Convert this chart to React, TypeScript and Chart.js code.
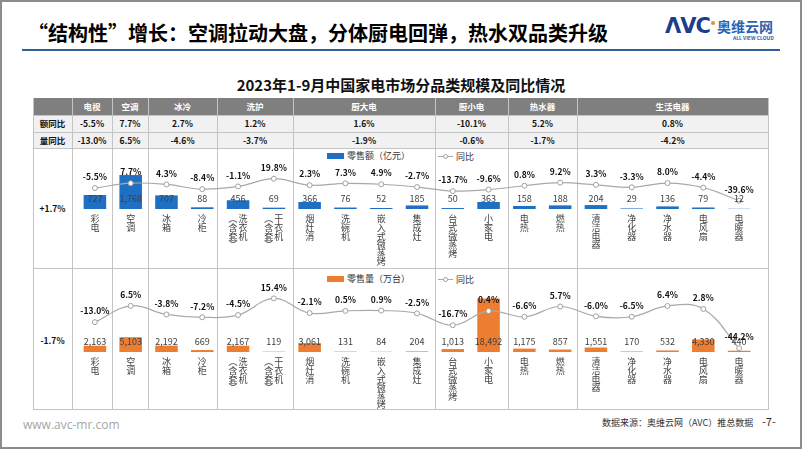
import React, { useEffect, useRef } from 'react';
import { Chart, registerables } from 'chart.js';
Chart.register(...registerables);

const FONT = '"Noto Sans CJK SC", "Noto Sans", sans-serif';

const categories = ['彩电', '空调', '冰箱', '冷柜', '洗衣机（含套）', '干衣机（含套）', '烟灶消', '洗碗机', '嵌入式微蒸烤', '集成灶', '台式微蒸烤', '小家电', '电热', '燃热', '清洁电器', '净化器', '净水器', '电风扇', '电暖器'];
const salesValue = [727, 1768, 707, 88, 456, 69, 366, 76, 52, 185, 50, 363, 158, 188, 204, 29, 136, 79, 12];
const salesValueYoY = [-5.5, 7.7, 4.3, -8.4, -1.1, 19.8, 2.3, 7.3, 4.9, -2.7, -13.7, -9.6, 0.8, 9.2, 3.3, -3.3, 8.0, -4.4, -39.6];
const salesVolume = [2163, 5103, 2192, 669, 2167, 119, 3061, 131, 84, 204, 1013, 18492, 1175, 857, 1551, 170, 532, 4330, 440];
const salesVolumeYoY = [-13.0, 6.5, -3.8, -7.2, -4.5, 15.4, -2.1, 0.5, 0.9, -2.5, -16.7, 0.4, -6.6, 5.7, -6.0, -6.5, 6.4, 2.8, -44.2];
const groups = ['电视', '空调', '冰冷', '洗护', '厨大电', '厨小电', '热水器', '生活电器'];
const groupValueYoY = ['-5.5%', '7.7%', '2.7%', '1.2%', '1.6%', '-10.1%', '5.2%', '0.8%'];
const groupVolumeYoY = ['-13.0%', '6.5%', '-4.6%', '-3.7%', '-1.9%', '-0.6%', '-1.7%', '-4.2%'];
const totalValueYoY = '+1.7%';
const totalVolumeYoY = '-1.7%';

function splitLabel(c: string): string[] {
  const m = c.match(/^(.*)（(.*)）$/);
  if (m) return [m[1], '︵' + m[2] + '︶'];
  return [c];
}

function fmt(n: number) {
  return n.toLocaleString('en-US');
}

type TCProps = {
  values: number[]; yoy: number[]; color: string; yMax: number; y1Min: number; y1Max: number;
  height: number; padBottom: number; left: number; top: number;
};

function TwinChart(p: TCProps) {
  const ref = useRef<HTMLCanvasElement>(null);
  useEffect(() => {
    const canvas = ref.current!;
    const plugin = {
      id: 'customLabels',
      afterDatasetsDraw(chart: any) {
        const ctx = chart.ctx;
        const lineMeta = chart.getDatasetMeta(0);
        const barMeta = chart.getDatasetMeta(1);
        const base = chart.scales.y.getPixelForValue(0);
        ctx.save();
        ctx.textAlign = 'center';
        ctx.textBaseline = 'middle';
        ctx.font = `9px ${FONT}`;
        ctx.fillStyle = '#404040';
        barMeta.data.forEach((bar: any, i: number) => ctx.fillText(fmt(p.values[i]), bar.x, base - 10));
        ctx.font = `bold 8.5px ${FONT}`;
        ctx.fillStyle = '#111';
        lineMeta.data.forEach((pt: any, i: number) => ctx.fillText(p.yoy[i].toFixed(1) + '%', pt.x, pt.y - 11));
        ctx.font = `9px ${FONT}`;
        ctx.fillStyle = '#404040';
        categories.forEach((c, i) => {
          const x = chart.scales.x.getPixelForValue(i);
          const cols = splitLabel(c);
          const offs = cols.length === 1 ? [0] : [5, -5];
          cols.forEach((col, k) => {
            Array.from(col).forEach((ch, j) => ctx.fillText(ch, x + offs[k], base + 10 + j * 8.6));
          });
        });
        ctx.restore();
      },
    };
    const chart = new Chart(canvas, {
      type: 'bar',
      data: {
        labels: categories,
        datasets: [
          {
            type: 'line',
            data: p.yoy,
            yAxisID: 'y1',
            borderColor: '#a9a9a9',
            borderWidth: 1.2,
            tension: 0.4,
            pointRadius: 2.5,
            pointBackgroundColor: '#ffffff',
            pointBorderColor: '#a0a0a0',
            pointBorderWidth: 1,
            order: 0,
            clip: false,
          } as any,
          {
            type: 'bar',
            data: p.values,
            yAxisID: 'y',
            backgroundColor: p.color,
            barPercentage: 0.63,
            categoryPercentage: 1,
            order: 1,
          } as any,
        ],
      },
      options: {
        animation: false,
        responsive: false,
        devicePixelRatio: 1,
        layout: { padding: { left: 3, right: 11, top: 0, bottom: p.padBottom } },
        plugins: { legend: { display: false }, tooltip: { enabled: false } },
        scales: {
          x: { display: false, offset: true },
          y: { display: false, min: 0, max: p.yMax },
          y1: { display: false, min: p.y1Min, max: p.y1Max },
        },
      },
      plugins: [plugin],
    });
    return () => chart.destroy();
  }, []);
  return (
    <canvas
      ref={ref}
      width={696}
      height={p.height}
      style={{ position: 'absolute', left: p.left, top: p.top, width: 696, height: p.height }}
    />
  );
}

const bounds = [72, 112, 148, 217, 293, 435, 508, 577, 768];
const hLines = [115, 132, 148, 268, 409];

export default function App() {
  const abs = (s: any) => ({ position: 'absolute', ...s });
  return (
    <div style={{ position: 'absolute', left: 0, top: 0, width: 802, height: 451, background: '#fff', fontFamily: FONT, overflow: 'hidden' }}>
      <div style={abs({ left: 0, top: 0, width: 802, height: 449, border: '2px solid #8c8c8c', boxSizing: 'border-box' })} />
      {/* title */}
      <div style={abs({ left: 28, top: 19, fontSize: 20, fontWeight: 700, color: '#000', whiteSpace: 'nowrap', lineHeight: '28px' })}>
        “结构性”增长：空调拉动大盘，分体厨电回弹，热水双品类升级
      </div>
      {/* logo */}
      <div style={abs({ left: 665, top: 13, fontSize: 21, fontWeight: 900, color: '#1c3d8c', fontFamily: '"DejaVu Sans", sans-serif', letterSpacing: -1, lineHeight: '26px', whiteSpace: 'nowrap' })}>ΛVC</div>
      <div style={abs({ left: 711, top: 21, width: 4, height: 4, borderRadius: 2, background: '#f08a24' })} />
      <div style={abs({ left: 717, top: 17, fontSize: 14, fontWeight: 700, color: '#2a62b4', lineHeight: '18px', whiteSpace: 'nowrap', letterSpacing: 0 })}>奥维云网</div>
      <div style={abs({ left: 733, top: 35, fontSize: 5, fontWeight: 700, color: '#2a62b4', lineHeight: '6px', whiteSpace: 'nowrap' })}>ALL VIEW CLOUD</div>
      <div style={abs({ left: 22, top: 49, width: 758, height: 2, background: '#2e5f99' })} />
      {/* subtitle */}
      <div style={abs({ left: 0, top: 75, width: 802, textAlign: 'center', fontSize: 15, fontWeight: 700, color: '#111', lineHeight: '20px' })}>
        2023年1-9月中国家电市场分品类规模及同比情况
      </div>
      {/* table backgrounds */}
      <div style={abs({ left: 33, top: 98, width: 735, height: 17, background: '#7f7f7f' })} />
      <div style={abs({ left: 33, top: 115, width: 735, height: 33, background: '#f1f1f1' })} />
      {hLines.map((y) => (
        <div key={'h' + y} style={abs({ left: 33, top: y, width: 736, height: 1, background: '#c4c4c4' })} />
      ))}
      {[33, ...bounds].map((x) => (
        <div key={'v' + x} style={abs({ left: x, top: 98, width: 1, height: 312, background: '#c4c4c4' })} />
      ))}
      {/* left labels */}
      <div style={abs({ left: 33, top: 115, width: 39, height: 17, lineHeight: '17px', textAlign: 'center', fontSize: 8.5, fontWeight: 700, color: '#111' })}>额同比</div>
      <div style={abs({ left: 33, top: 132, width: 39, height: 16, lineHeight: '16px', textAlign: 'center', fontSize: 8.5, fontWeight: 700, color: '#111' })}>量同比</div>
      <div style={abs({ left: 33, top: 200, width: 39, height: 16, lineHeight: '16px', textAlign: 'center', fontSize: 8.5, fontWeight: 700, color: '#111' })}>{totalValueYoY}</div>
      <div style={abs({ left: 33, top: 332, width: 39, height: 16, lineHeight: '16px', textAlign: 'center', fontSize: 8.5, fontWeight: 700, color: '#111' })}>{totalVolumeYoY}</div>
      {groups.map((g, i) => (
        <React.Fragment key={g}>
          <div style={abs({ left: bounds[i], top: 98, width: bounds[i + 1] - bounds[i], height: 17, lineHeight: '17px', textAlign: 'center', fontSize: 8.5, fontWeight: 700, color: '#fff' })}>{g}</div>
          <div style={abs({ left: bounds[i], top: 115, width: bounds[i + 1] - bounds[i], height: 17, lineHeight: '17px', textAlign: 'center', fontSize: 8.5, fontWeight: 700, color: '#111' })}>{groupValueYoY[i]}</div>
          <div style={abs({ left: bounds[i], top: 132, width: bounds[i + 1] - bounds[i], height: 16, lineHeight: '16px', textAlign: 'center', fontSize: 8.5, fontWeight: 700, color: '#111' })}>{groupVolumeYoY[i]}</div>
        </React.Fragment>
      ))}
      {/* legends */}
      <div style={abs({ left: 327, top: 153, width: 17, height: 6, background: '#1f6fc3' })} />
      <div style={abs({ left: 347, top: 149, fontSize: 9, color: '#333', lineHeight: '13px', whiteSpace: 'nowrap' })}>零售额（亿元）</div>
      <div style={abs({ left: 438, top: 156, width: 15, height: 1, background: '#a9a9a9' })} />
      <div style={abs({ left: 443, top: 154, width: 3, height: 3, borderRadius: 3, border: '1px solid #a0a0a0', background: '#fff' })} />
      <div style={abs({ left: 456, top: 150, fontSize: 9, color: '#333', lineHeight: '13px', whiteSpace: 'nowrap' })}>同比</div>
      <div style={abs({ left: 327, top: 276, width: 17, height: 6, background: '#ed7d31' })} />
      <div style={abs({ left: 347, top: 272, fontSize: 9, color: '#333', lineHeight: '13px', whiteSpace: 'nowrap' })}>零售量（万台）</div>
      <div style={abs({ left: 438, top: 279, width: 15, height: 1, background: '#a9a9a9' })} />
      <div style={abs({ left: 443, top: 277, width: 3, height: 3, borderRadius: 3, border: '1px solid #a0a0a0', background: '#fff' })} />
      <div style={abs({ left: 456, top: 273, fontSize: 9, color: '#333', lineHeight: '13px', whiteSpace: 'nowrap' })}>同比</div>
      {/* charts */}
      <TwinChart values={salesValue} yoy={salesValueYoY} color="#1f6fc3" yMax={2915} y1Min={-61.9} y1Max={89.1} height={120} padBottom={59} left={72} top={148} />
      <TwinChart values={salesVolume} yoy={salesVolumeYoY} color="#ed7d31" yMax={27251} y1Min={-48.7} y1Max={45.8} height={141} padBottom={57} left={72} top={268} />
      {/* footer */}
      <div style={abs({ left: 23, top: 417, fontSize: 12, color: '#a6a6a6', fontFamily: '"Open Sans", sans-serif', lineHeight: '16px', whiteSpace: 'nowrap' })}>www.avc-mr.com</div>
      <div style={abs({ left: 602, top: 416, fontSize: 9, color: '#333', lineHeight: '13px', whiteSpace: 'nowrap' })}>数据来源：奥维云网（AVC）推总数据</div>
      <div style={abs({ left: 762, top: 414, fontSize: 11, color: '#333', lineHeight: '15px', whiteSpace: 'nowrap' })}>-7-</div>
    </div>
  );
}
